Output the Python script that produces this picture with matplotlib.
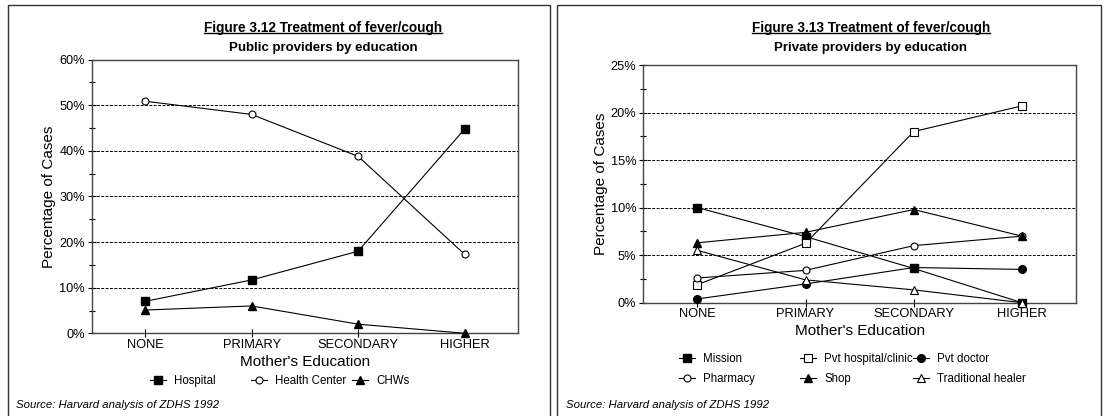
import matplotlib
matplotlib.use('Agg')
import matplotlib.pyplot as plt
from matplotlib.patches import Rectangle
from matplotlib.lines import Line2D
from matplotlib.legend import Legend
from matplotlib.ticker import MultipleLocator, PercentFormatter

plt.rcParams['font.family'] = ['Liberation Sans', 'DejaVu Sans']

# categorias de educacion
niveles = ['NONE', 'PRIMARY', 'SECONDARY', 'HIGHER']

# Figura 3.12 - proveedores publicos (%)
hospital = [7.0, 11.7, 18.0, 44.8]
health_center = [50.9, 48.0, 38.8, 17.3]
chws = [5.1, 6.0, 2.0, 0.0]

# Figura 3.13 - proveedores privados (%)
mission = [10.0, 6.95, 3.6, 0.0]
pvt_hospital = [1.9, 6.25, 18.0, 20.7]
pvt_doctor = [0.4, 1.97, 3.7, 3.5]
pharmacy = [2.6, 3.4, 6.0, 7.0]
shop = [6.3, 7.4, 9.8, 7.0]
trad_healer = [5.5, 2.4, 1.35, 0.0]

fuente = 'Source: Harvard analysis of ZDHS 1992'

W, H = 1104, 416
fig = plt.figure(figsize=(W / 100, H / 100), dpi=100)

# marcos de los paneles (abiertos por abajo, cortados por el borde)
fig.add_artist(Rectangle((8 / W, -10 / H), 542 / W, 421 / H, transform=fig.transFigure,
                         fill=False, lw=1.0, ec='#333333'))
fig.add_artist(Rectangle((557 / W, -10 / H), 544 / W, 421 / H, transform=fig.transFigure,
                         fill=False, lw=1.0, ec='#333333'))


def preparar_ejes(ax, ymax, paso):
    x = range(len(niveles))
    ax.set_xlim(-0.5, len(niveles) - 0.5)
    ax.set_ylim(0, ymax)
    ax.set_xticks(list(x))
    ax.set_xticklabels(niveles, fontsize=9.3)
    ax.yaxis.set_major_locator(MultipleLocator(paso))
    ax.yaxis.set_minor_locator(MultipleLocator(paso / 2))
    ax.yaxis.set_major_formatter(PercentFormatter(decimals=0))
    ax.tick_params(axis='y', labelsize=9.2, direction='inout', length=6, width=0.8, pad=2)
    ax.tick_params(axis='y', which='minor', direction='inout', length=4, width=0.8)
    ax.tick_params(axis='x', direction='inout', length=6, width=0.8, pad=1)
    for s in ax.spines.values():
        s.set_color('#444444')
        s.set_linewidth(1.0)
    for v in range(paso, ymax, paso):
        ax.axhline(v, color='black', lw=0.7, ls=(0, (3, 1.5)), zorder=1)
    ax.set_xlabel("Mother's Education", fontsize=11, labelpad=3)
    ax.set_ylabel('Percentage of Cases', fontsize=11, labelpad=2)


def titulo(xc, texto, sub):
    t = fig.text(xc / W, 1 - 28 / H, texto, ha='center', va='center',
                 fontsize=9.8, fontweight='bold')
    fig.text(xc / W, 1 - 47.5 / H, sub, ha='center', va='center',
             fontsize=9.5, fontweight='bold')
    fig.canvas.draw()
    bb = t.get_window_extent().transformed(fig.transFigure.inverted())
    fig.add_artist(Line2D([bb.x0, bb.x1], [bb.y0 + 0.006, bb.y0 + 0.006],
                          transform=fig.transFigure, color='black', lw=1.0))


def leyenda(ax, lineas, columnas_x, fila_y):
    # cada columna es una leyenda aparte colocada en px de la figura
    ncols = len(columnas_x)
    for c, xpx in enumerate(columnas_x):
        grupo = lineas[c::ncols]
        leg = Legend(ax, grupo, [l.get_label() for l in grupo],
                     loc='center left', bbox_to_anchor=(xpx / W, 1 - fila_y / H),
                     bbox_transform=fig.transFigure, frameon=False, fontsize=8.3,
                     handlelength=1.4, handletextpad=0.7, borderpad=0,
                     borderaxespad=0, labelspacing=0.65)
        ax.add_artist(leg)


# ---- Figura 3.12 ----
ax1 = fig.add_axes([91.7 / W, 1 - 333.3 / H, 426.3 / W, 273.6 / H])
x = range(len(niveles))
l1, = ax1.plot(x, hospital, 'k-s', lw=0.8, ms=6, label='Hospital', zorder=3)
l2, = ax1.plot(x, health_center, 'k-o', lw=0.8, ms=5, mfc='white', mew=0.8,
               label='Health Center', zorder=3)
l3, = ax1.plot(x, chws, 'k-^', lw=0.8, ms=6, label='CHWs', zorder=3, clip_on=False)
preparar_ejes(ax1, 60, 10)
leyenda(ax1, [l1, l2, l3], [150, 251, 352], 381)
titulo(323, 'Figure 3.12 Treatment of fever/cough', 'Public providers by education')
fig.text(16 / W, 1 - 404.5 / H, fuente, fontsize=8.2, style='italic', va='center')

# ---- Figura 3.13 ----
ax2 = fig.add_axes([643.3 / W, 1 - 302.7 / H, 432.7 / W, 237.7 / H])
m1, = ax2.plot(x, mission, 'k-s', lw=0.8, ms=6, label='Mission', zorder=3, clip_on=False)
m2, = ax2.plot(x, pvt_hospital, 'k-s', lw=0.8, ms=5.5, mfc='white', mew=0.8,
               label='Pvt hospital/clinic', zorder=3)
m3, = ax2.plot(x, pvt_doctor, 'k-o', lw=0.8, ms=5.5, label='Pvt doctor', zorder=3,
               clip_on=False)
m4, = ax2.plot(x, pharmacy, 'k-o', lw=0.8, ms=5, mfc='white', mew=0.8,
               label='Pharmacy', zorder=3)
m5, = ax2.plot(x, shop, 'k-^', lw=0.8, ms=6, label='Shop', zorder=3)
m6, = ax2.plot(x, trad_healer, 'k-^', lw=0.8, ms=6, mfc='white', mew=0.8,
               label='Traditional healer', zorder=3, clip_on=False)
preparar_ejes(ax2, 25, 5)
leyenda(ax2, [m1, m2, m3, m4, m5, m6], [679, 800, 913], 369)
titulo(871, 'Figure 3.13 Treatment of fever/cough', 'Private providers by education')
fig.text(566 / W, 1 - 404.5 / H, fuente, fontsize=8.2, style='italic', va='center')

fig.savefig('out.png', dpi=100)
